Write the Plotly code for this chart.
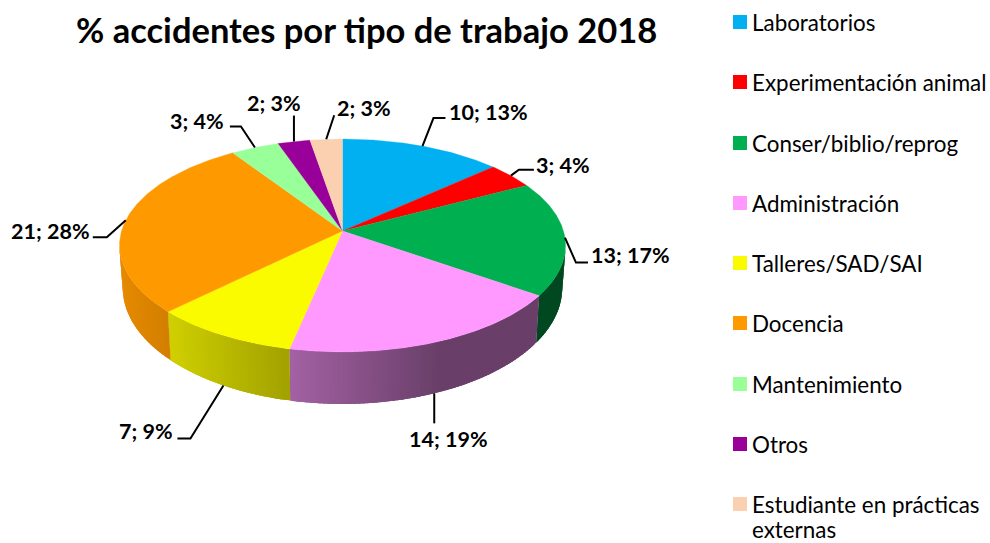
import numpy as np
import plotly.graph_objects as go

# ---- data ----
categories = ["Laboratorios", "Experimentación animal", "Conser/biblio/reprog", "Administración",
              "Talleres/SAD/SAI", "Docencia", "Mantenimiento", "Otros",
              "Estudiante en prácticas<br>externas"]
values = [10, 3, 13, 14, 7, 21, 3, 2, 2]
colors = ["#00B0F0", "#FF0000", "#00B050", "#FF99FF", "#FBFB00", "#FF9900", "#99FF99", "#990099", "#FBD0B1"]

# ---- presentation ----
FONT = "Lato, Carlito, Calibri, sans-serif"
CX, CY_TOP, CY_BOT = 342.5, 231.0, 272.0
A_TOP, B_TOP, A_BOT, B_BOT, PERSP = 221.0, 104.5, 217.7, 114.0, 0.136
# leader elbows (dx, dy from rim anchor), leader ends, label centre offset from the leader end
leaders = [
    ((11, -28), (23, -28), (43, -6)),
    ((8, -6), (23, -6), (29, -5)),
    ((11, 25), (23, 25), (43, -8)),
    ((0, 30), (0, 30), (14, 16)),
    ((-33, 53), (-46, 53), (-31, -7)),
    ((-19, 17), (-33, 17), (-42, -6)),
    ((-14, -21), (-25, -21), (-33, -6)),
    ((0, -26), (0, -26), (-20, -13)),
    ((8, -24), (8, -24), (30, -7)),
]
legend_x_marker, legend_x_text = 740, 751
legend_y = [22, 82, 143, 203, 263, 323, 384, 444, 504]
legend_line = 25


def project(theta_deg, top=True):
    t = np.radians(theta_deg)
    u, v = np.sin(t), -np.cos(t)
    w = 1 - PERSP * v
    a, b, cy = (A_TOP, B_TOP, CY_TOP) if top else (A_BOT, B_BOT, CY_BOT)
    return CX + a * u / w, cy + b * v / w


def shade(hex_color, px):
    f = np.clip(0.9 - (px - 120) * (0.9 - 0.41) / 320, 0.41, 0.9)
    r, g, b = (int(hex_color[i:i + 2], 16) for i in (1, 3, 5))
    return f"rgb({r * f:.0f},{g * f:.0f},{b * f:.0f})"


total = sum(values)
edges = np.cumsum([0] + values) / total * 360
fig = go.Figure()
THETA_VIS = (np.degrees(np.arcsin(PERSP)) + 90, 270 - np.degrees(np.arcsin(PERSP)))

# side walls: each strip runs under the next one, so no seam shows
for i, col in enumerate(colors):
    lo, hi = max(edges[i], THETA_VIS[0]), min(edges[i + 1], THETA_VIS[1])
    if hi <= lo:
        continue
    ts = np.linspace(lo, hi, max(2, int((hi - lo) / 1.0) + 1))
    step = ts[1] - ts[0]
    for t0 in ts[:-1]:
        t1 = min(t0 + 2.5 * step, hi)
        x0, y0 = project(t0, True)
        x1, y1 = project(t1, True)
        x2, y2 = project(t1, False)
        x3, y3 = project(t0, False)
        xm, _ = project(t0 + step / 2, True)
        fig.add_trace(go.Scatter(x=[x0, x1, x2, x3, x0], y=[y0, y1, y2, y3, y0], mode="lines",
                                 fill="toself", fillcolor=shade(col, xm), line=dict(width=0),
                                 hoverinfo="skip", showlegend=False))

# top face
for i, col in enumerate(colors):
    ts = np.linspace(edges[i], edges[i + 1], max(3, int(edges[i + 1] - edges[i]) * 2))
    xs, ys = project(ts, True)
    fig.add_trace(go.Scatter(x=np.r_[CX, xs, CX], y=np.r_[CY_TOP, ys, CY_TOP], mode="lines",
                             fill="toself", fillcolor=col, line=dict(color=col, width=0.3),
                             name=categories[i], hoverinfo="name", showlegend=False))

# leaders and data labels
annotations = []
for i, (elbow, end, lab) in enumerate(leaders):
    mid = (edges[i] + edges[i + 1]) / 2
    on_wall = THETA_VIS[0] + 20 < mid < THETA_VIS[1]
    ax, ay = project(mid, not on_wall)
    fig.add_trace(go.Scatter(x=[ax, ax + elbow[0], ax + end[0]], y=[ay, ay + elbow[1], ay + end[1]],
                             mode="lines", line=dict(color="#000000", width=2),
                             hoverinfo="skip", showlegend=False))
    pct = round(values[i] / total * 100)
    annotations.append(dict(x=ax + end[0] + lab[0], y=ay + end[1] + lab[1], xref="x", yref="y",
                            text=f"<b>{values[i]}; {pct}%</b>", showarrow=False,
                            xanchor="center", yanchor="middle",
                            font=dict(family=FONT, size=21.5, color="#000000")))

# legend
fig.add_trace(go.Scatter(x=[legend_x_marker] * len(categories), y=legend_y, mode="markers",
                         marker=dict(symbol="square", size=14, color=colors, line=dict(width=0)),
                         text=categories, hoverinfo="text", showlegend=False))
for cat, y in zip(categories, legend_y):
    for j, part in enumerate(cat.split("<br>")):
        annotations.append(dict(x=legend_x_text, y=y + j * legend_line, xref="x", yref="y", text=part,
                                showarrow=False, xanchor="left", yanchor="middle", borderpad=0,
                                font=dict(family=FONT, size=22.4, color="#000000")))

annotations.append(dict(x=366, y=29, xref="x", yref="y", showarrow=False, xanchor="center", yanchor="middle",
                        text="<b>% accidentes por tipo de trabajo 2018</b>",
                        font=dict(family=FONT, size=34.5, color="#000000")))

fig.update_layout(width=990, height=543, margin=dict(l=0, r=0, t=0, b=0),
                  paper_bgcolor="#FFFFFF", plot_bgcolor="#FFFFFF", annotations=annotations,
                  xaxis=dict(range=[0, 990], visible=False, fixedrange=True),
                  yaxis=dict(range=[543, 0], visible=False, fixedrange=True))
fig.write_html("out.html", post_script="document.body.style.margin=0;", config={"displayModeBar": False})
